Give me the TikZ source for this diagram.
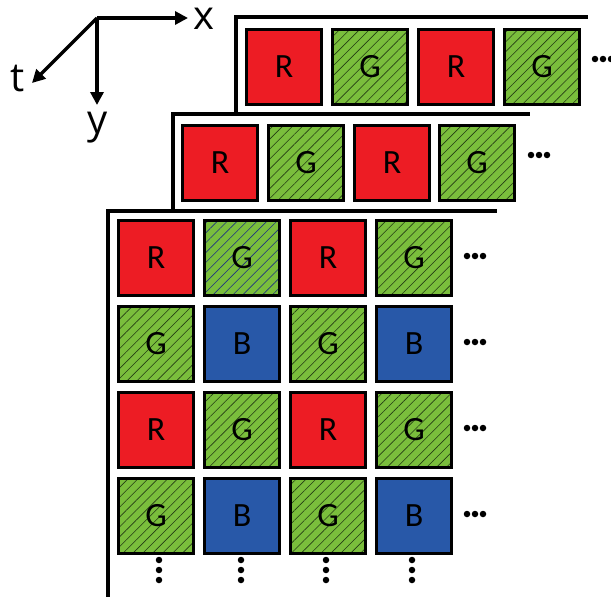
\documentclass[tikz,border=0pt]{standalone}
\usepackage{fontspec}
\setmainfont{Carlito}
\newfontfamily\axisfont{Open Sans}
\usetikzlibrary{patterns.meta,arrows.meta}
\definecolor{cellred}{RGB}{237,28,36}
\definecolor{cellgreen}{RGB}{122,190,60}
\definecolor{cellblue}{RGB}{40,88,168}
\definecolor{hatchdark}{RGB}{35,60,20}
\definecolor{hatchblue}{RGB}{30,50,130}
\tikzset{
 cell/.style={draw=black,line width=2.5pt,minimum size=75pt,inner sep=0pt,font=\fontsize{34}{40}\selectfont},
 rcell/.style={cell,fill=cellred},
 bcell/.style={cell,fill=cellblue},
 gcell/.style={cell,preaction={fill=cellgreen},pattern={Lines[angle=45,distance=7pt,line width=0.6pt]},pattern color=hatchdark},
 gbcell/.style={gcell,pattern color=hatchblue},
 framestroke/.style={line width=3.5pt,line join=miter},
 axisarrow/.style={line width=3.5pt,-{Triangle[length=13pt,width=13pt]}},
 axlabel/.style={font=\axisfont\fontsize{40}{44}\selectfont,inner sep=0pt},
 dotmark/.style={circle,fill=black,inner sep=0pt,minimum size=6.5pt},
}
\begin{document}
\begin{tikzpicture}[x=1pt,y=-1pt]
\useasboundingbox (0,0) rectangle (611,597);
% axes
\coordinate (o) at (97,18);
\coordinate (xe) at (188,18);
\coordinate (ye) at (97,105);
\coordinate (te) at (32,83);
\draw[axisarrow] (o) -- (xe);
\draw[axisarrow] (o) -- (ye);
\draw[axisarrow] (o) -- (te);
\node[axlabel] (xl) at (204,19) {x};
\node[axlabel] (yl) at (98,128) {y};
\node[axlabel] (tl) at (18,79) {t};
% frames
\draw[framestroke] (236,114) -- (236,17) -- (588,17);
\draw[framestroke] (173,211) -- (173,114) -- (530,114);
\draw[framestroke] (108,597) -- (108,211) -- (497,211);
% back layer
\node[rcell] (b1) at (284,67) {R};
\node[gcell] (b2) at (370,67) {G};
\node[rcell] (b3) at (456,67) {R};
\node[gcell] (b4) at (542,67) {G};
\node[dotmark] (bd1) at (595,59) {};
\node[dotmark] (bd2) at (603,59) {};
\node[dotmark] (bd3) at (611,59) {};
% middle layer
\node[rcell] (m1) at (220,163) {R};
\node[gcell] (m2) at (306,163) {G};
\node[rcell] (m3) at (392,163) {R};
\node[gcell] (m4) at (477,163) {G};
\node[dotmark] (md1) at (531,155) {};
\node[dotmark] (md2) at (539,155) {};
\node[dotmark] (md3) at (547,155) {};
% front layer
\node[rcell]  (f11) at (156,258) {R};
\node[gbcell] (f12) at (242,258) {G};
\node[rcell]  (f13) at (328,258) {R};
\node[gcell]  (f14) at (414,258) {G};
\node[gcell]  (f21) at (156,344) {G};
\node[bcell]  (f22) at (242,344) {B};
\node[gcell]  (f23) at (328,344) {G};
\node[bcell]  (f24) at (414,344) {B};
\node[rcell]  (f31) at (156,430) {R};
\node[gcell]  (f32) at (242,430) {G};
\node[rcell]  (f33) at (328,430) {R};
\node[gcell]  (f34) at (414,430) {G};
\node[gcell]  (f41) at (156,516) {G};
\node[bcell]  (f42) at (242,516) {B};
\node[gcell]  (f43) at (328,516) {G};
\node[bcell]  (f44) at (414,516) {B};
\foreach \r/\y in {1/256,2/342,3/428,4/514}{
  \foreach \k/\x in {1/467,2/475,3/483}{
    \node[dotmark] (rd\r\k) at (\x,\y) {};
  }
}
\foreach \c/\x in {1/159,2/241,3/326,4/412}{
  \foreach \k/\y in {1/560,2/570,3/580}{
    \node[dotmark] (cd\c\k) at (\x,\y) {};
  }
}
\end{tikzpicture}
\end{document}
